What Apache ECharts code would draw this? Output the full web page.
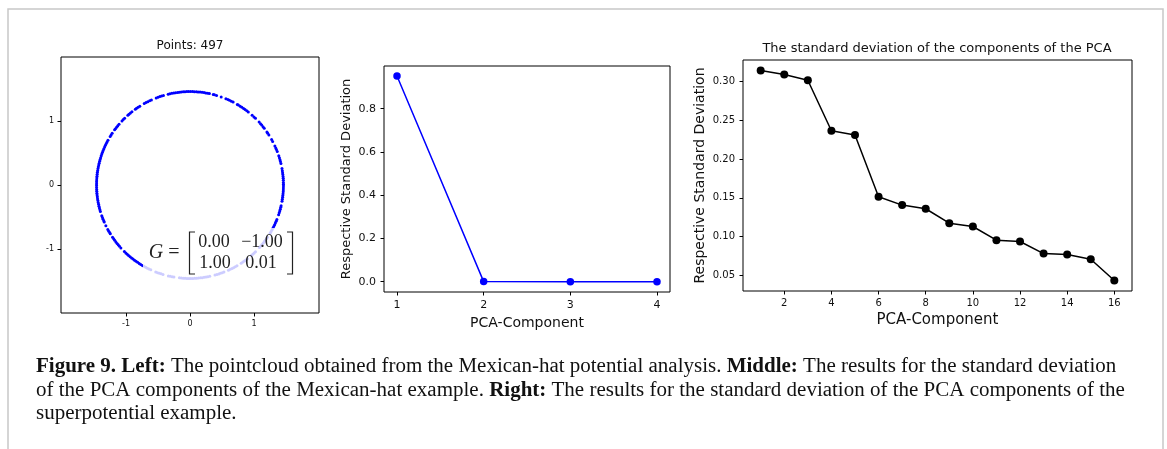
<!DOCTYPE html>
<html>
<head>
<meta charset="utf-8">
<script src="https://cdn.jsdelivr.net/npm/echarts@6/dist/echarts.min.js"></script>
<style>
  html, body { margin: 0; padding: 0; background: #fff; }
  #chart { width: 1167px; height: 449px; }
</style>
</head>
<body>
<div id="chart"></div>
<script>
// ---- Left panel: point cloud on a ring (radius, angles in degrees) ----
const ringRadius = 1.46;
const ringAngles = [
  0.4, 1.6, 2.9, 4.1, 5.2, 6.5, 7.6, 8.8, 10.1,
  13.3, 14.5, 15.6, 16.9, 18.2,
  21.0, 22.3, 23.4, 24.7,
  27.8, 29.1,
  32.4, 33.7, 34.6,
  37.4, 38.6, 39.9, 41.0, 42.3,
  45.5, 46.8, 48.3,
  51.4, 52.6, 53.9, 55.0, 56.3, 57.5, 58.8, 59.6,
  62.5, 63.7, 65.0, 66.1, 67.4,
  70.5,
  73.5, 74.8, 75.6,
  78.0, 79.1, 80.3, 81.4, 82.6, 83.8, 85.0, 86.1, 87.3, 88.4, 89.6, 90.8,
  91.9, 93.1, 94.2, 95.4, 96.6, 97.7, 98.9, 100.0, 101.2, 102.4, 103.5,
  106.5, 107.7, 108.8, 110.0, 111.2,
  114.4, 115.6, 116.9, 118.1, 119.3,
  122.5, 123.7, 124.9, 125.8,
  128.4, 129.6, 130.8, 131.7,
  134.4, 135.6, 136.7,
  139.4, 140.6, 141.8, 142.9, 143.8,
  146.4, 147.6, 148.7,
  151.4, 152.6, 153.7, 154.9, 156.0, 157.2, 158.4, 159.5, 160.7, 161.8,
  163.0, 164.1, 165.3, 166.5, 167.6, 168.8, 169.9, 171.1, 172.2, 173.4,
  174.6, 175.7, 176.9, 178.0, 179.2, 180.3, 181.5, 182.7, 183.8, 185.0,
  186.1, 187.3, 188.4, 189.6, 190.8, 191.9, 193.1, 194.2, 195.4, 196.4,
  199.2, 200.4, 201.5, 202.7, 203.4,
  205.8,
  208.4, 209.6, 210.8, 211.5,
  214.0, 215.2, 216.3, 217.5, 218.7, 219.8, 221.0, 222.3,
  225.4, 226.6, 227.8, 228.9, 230.1, 231.3, 232.4, 233.6, 234.7, 235.9,
  237.1, 238.2, 239.4, 240.5, 241.7, 242.9, 244.0, 245.2,
  248.5, 249.7, 250.9, 252.0, 253.2,
  256.6, 257.8, 259.0, 260.1,
  263.5, 264.7, 265.9, 267.0, 268.2, 269.4, 270.5, 271.7, 272.9, 274.0,
  275.2, 276.4, 277.5, 278.7, 279.9, 281.0, 282.2,
  285.5, 286.7, 287.9, 289.0, 290.2, 291.3,
  294.3, 295.5, 296.7, 297.8, 299.0, 300.2,
  303.2, 304.4, 305.6, 306.7, 307.9,
  311.0, 312.2, 313.4, 314.5,
  318.0, 319.2, 320.3, 321.5, 322.7, 323.8, 325.0, 326.0,
  329.0, 330.2, 331.4, 332.5, 333.7, 334.9, 336.0, 337.2, 338.4,
  341.5, 342.7, 343.9, 345.0, 346.2, 347.2,
  350.0, 351.2, 352.4, 353.5, 354.7, 355.9, 357.0, 358.2, 359.4
];
const leftTicks = [-1, 0, 1];
const leftTitle = 'Points: 497';
const matrixG = [['0.00', '\u22121.00'], ['1.00', '0.01']];

// ---- Middle panel: Mexican-hat PCA ----
const midComponents = [1, 2, 3, 4];
const midStd = [0.951, 0.0006, 0.0004, 0.0002];
const midXTicks = [1, 2, 3, 4];
const midYTicks = [0.0, 0.2, 0.4, 0.6, 0.8];

// ---- Right panel: superpotential PCA ----
const rightComponents = [1, 2, 3, 4, 5, 6, 7, 8, 9, 10, 11, 12, 13, 14, 15, 16];
const rightStd = [0.3143, 0.3091, 0.3018, 0.2367, 0.2311, 0.1515, 0.1407, 0.1360,
                  0.1174, 0.1131, 0.0955, 0.0938, 0.0782, 0.0770, 0.0709, 0.0434];
const rightXTicks = [2, 4, 6, 8, 10, 12, 14, 16];
const rightYTicks = [0.05, 0.10, 0.15, 0.20, 0.25, 0.30];
const rightTitle = 'The standard deviation of the components of the PCA';

const yName = 'Respective Standard Deviation';
const xName = 'PCA-Component';

// ---- Caption ----
const captionLines = [
  '{b|Figure 9. Left:} The pointcloud obtained from the Mexican-hat potential analysis. {b|Middle:} The results for the standard deviation',
  'of the PCA components of the Mexican-hat example. {b|Right:} The results for the standard deviation of the PCA components of the',
  'superpotential example.'
];

const SANS = 'DejaVu Sans';
const SERIF = 'Liberation Serif';

function zip(xs, ys) { return xs.map((x, i) => [x, ys[i]]); }

function valueAxis(gridIndex, min, max, ticks, fontSize, margin, fmt, extra) {
  return Object.assign({
    type: 'value', gridIndex, min, max,
    splitLine: { show: false },
    axisLine: { show: false, onZero: false },
    axisTick: { show: true, inside: false, length: 3.5, customValues: ticks,
                lineStyle: { color: '#000', width: 1 } },
    axisLabel: { show: true, customValues: ticks, margin, color: '#111',
                 fontFamily: SANS, fontSize, formatter: fmt }
  }, extra || {});
}

const chart = echarts.init(document.getElementById('chart'), null, { renderer: 'canvas' });

const option = {
  backgroundColor: '#fff',
  animation: false,
  grid: [
    { left: 61, top: 57, width: 258, height: 256, show: true, borderColor: '#000', borderWidth: 1, backgroundColor: 'transparent' },
    { left: 384, top: 66, width: 286, height: 226, show: true, borderColor: '#000', borderWidth: 1, backgroundColor: 'transparent' },
    { left: 743, top: 60, width: 389, height: 231, show: true, borderColor: '#000', borderWidth: 1, backgroundColor: 'transparent' }
  ],
  xAxis: [
    valueAxis(0, -2.016, 2.016, leftTicks, 8, 7, v => String(v)),
    valueAxis(1, 0.85, 4.15, midXTicks, 11, 8, v => String(v),
      { name: xName, nameLocation: 'middle', nameGap: 22,
        nameTextStyle: { fontFamily: SANS, fontSize: 14, color: '#111' } }),
    valueAxis(2, 0.25, 16.75, rightXTicks, 10, 7, v => String(v),
      { name: xName, nameLocation: 'middle', nameGap: 21,
        nameTextStyle: { fontFamily: SANS, fontSize: 15, color: '#111' } })
  ],
  yAxis: [
    valueAxis(0, -2.0, 2.0, leftTicks, 8, 7, v => String(v)),
    valueAxis(1, -0.0475, 0.9975, midYTicks, 11, 8, v => v.toFixed(1),
      { name: yName, nameLocation: 'middle', nameGap: 31, nameRotate: 90,
        nameTextStyle: { fontFamily: SANS, fontSize: 13, color: '#111' } }),
    valueAxis(2, 0.0299, 0.3279, rightYTicks, 10, 8, v => v.toFixed(2),
      { name: yName, nameLocation: 'middle', nameGap: 36, nameRotate: 90,
        nameTextStyle: { fontFamily: SANS, fontSize: 14, color: '#111' } })
  ],
  // polar frame sharing the left panel's centre and scale (2 units = 128 px)
  polar: { center: [190, 185], radius: 128 },
  angleAxis: { type: 'value', min: 0, max: 360, startAngle: 0, clockwise: false, show: false },
  radiusAxis: { type: 'value', min: 0, max: 2, show: false },
  series: [
    {
      type: 'scatter', coordinateSystem: 'polar',
      data: ringAngles.map(a => [ringRadius, a]),
      symbol: 'circle', symbolSize: 3,
      itemStyle: { color: '#0000ff', opacity: 1 },
      silent: true, z: 2
    },
    {
      type: 'line', xAxisIndex: 1, yAxisIndex: 1,
      data: zip(midComponents, midStd),
      symbol: 'circle', symbolSize: 7.5, showSymbol: true,
      lineStyle: { color: '#0000ff', width: 1.5 },
      itemStyle: { color: '#0000ff', borderWidth: 0 },
      silent: true
    },
    {
      type: 'line', xAxisIndex: 2, yAxisIndex: 2,
      data: zip(rightComponents, rightStd),
      symbol: 'circle', symbolSize: 8, showSymbol: true,
      lineStyle: { color: '#000', width: 1.5 },
      itemStyle: { color: '#000', borderWidth: 0 },
      silent: true
    }
  ],
  graphic: [
    // page frame
    { type: 'rect', z: -10, shape: { x: 8, y: 9, width: 1155, height: 480 },
      style: { fill: 'none', stroke: '#c8c8c8', lineWidth: 1.5 } },
    // panel titles
    { type: 'text', x: 190, y: 46, z: 50,
      style: { text: leftTitle, fontFamily: SANS, fontSize: 12, fill: '#111',
               textAlign: 'center', textVerticalAlign: 'middle' } },
    { type: 'text', x: 937, y: 49, z: 50,
      style: { text: rightTitle, fontFamily: SANS, fontSize: 13, fill: '#111',
               textAlign: 'center', textVerticalAlign: 'middle' } },
    // matrix annotation with a translucent white box
    { type: 'rect', z: 100, shape: { x: 143, y: 228, width: 157, height: 56 },
      style: { fill: 'rgba(255,255,255,0.8)', stroke: 'none' } },
    { type: 'text', x: 156, y: 253, z: 101,
      style: { text: 'G', fontFamily: SERIF, fontStyle: 'italic', fontSize: 20, fill: '#222',
               textAlign: 'center', textVerticalAlign: 'middle' } },
    { type: 'text', x: 174, y: 253, z: 101,
      style: { text: '=', fontFamily: SERIF, fontSize: 20, fill: '#222',
               textAlign: 'center', textVerticalAlign: 'middle' } },
    { type: 'polyline', z: 101, shape: { points: [[195, 232], [189.5, 232], [189.5, 274], [195, 274]] },
      style: { stroke: '#222', lineWidth: 1.2, fill: 'none' } },
    { type: 'polyline', z: 101, shape: { points: [[287, 232], [292.5, 232], [292.5, 274], [287, 274]] },
      style: { stroke: '#222', lineWidth: 1.2, fill: 'none' } },
    { type: 'text', x: 214, y: 242, z: 101,
      style: { text: matrixG[0][0], fontFamily: SERIF, fontSize: 18, fill: '#222', textAlign: 'center', textVerticalAlign: 'middle' } },
    { type: 'text', x: 262, y: 242, z: 101,
      style: { text: matrixG[0][1], fontFamily: SERIF, fontSize: 18, fill: '#222', textAlign: 'center', textVerticalAlign: 'middle' } },
    { type: 'text', x: 215, y: 263, z: 101,
      style: { text: matrixG[1][0], fontFamily: SERIF, fontSize: 18, fill: '#222', textAlign: 'center', textVerticalAlign: 'middle' } },
    { type: 'text', x: 261, y: 263, z: 101,
      style: { text: matrixG[1][1], fontFamily: SERIF, fontSize: 18, fill: '#222', textAlign: 'center', textVerticalAlign: 'middle' } }
  ].concat(captionLines.map((line, i) => ({
    type: 'text', x: 36, y: 367 + i * 23.5, z: 50, scaleX: 1.05,
    style: {
      text: line, fontFamily: SERIF, fontSize: 20, fill: '#111',
      textAlign: 'left', textVerticalAlign: 'middle',
      rich: { b: { fontFamily: SERIF, fontSize: 20, fontWeight: 'bold', fill: '#111' } }
    }
  })))
};

chart.setOption(option);
</script>
</body>
</html>
